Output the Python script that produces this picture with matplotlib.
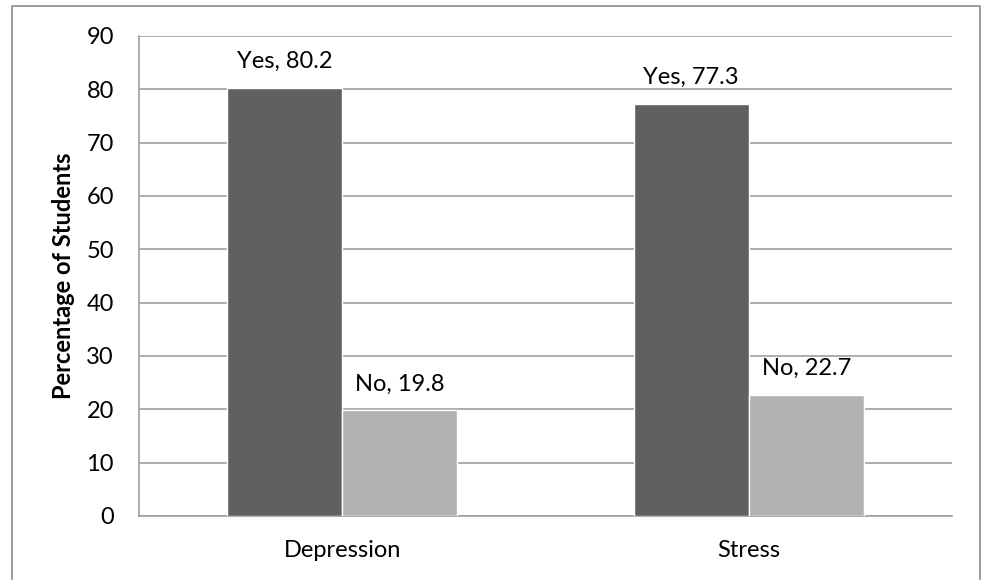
import numpy as np
import matplotlib.pyplot as plt
from matplotlib.patches import Rectangle

plt.rcParams['font.family'] = ['Lato', 'DejaVu Sans']

categories = ['Depression', 'Stress']
yes_values = [80.2, 77.3]
no_values = [19.8, 22.7]
yes_labels = ['Yes, 80.2', 'Yes, 77.3']
no_labels = ['No, 19.8', 'No, 22.7']

fig = plt.figure(figsize=(9.82, 5.8), dpi=100)
ax = fig.add_axes([139 / 982, 1 - 516 / 580, (952 - 139) / 982, (516 - 36) / 580])

# thin frame round the whole chart
fig.patches.append(Rectangle((12 / 982, -0.01), (980 - 12) / 982, 1 - 6 / 580 + 0.01,
                             transform=fig.transFigure, fill=False,
                             edgecolor='#8c8c8c', linewidth=1.2))

x = np.arange(len(categories))
w = 0.283
yes_bars = ax.bar(x - w / 2, yes_values, w, color='#606060', edgecolor='white', linewidth=1, zorder=3)
no_bars = ax.bar(x + w / 2, no_values, w, color='#b2b2b2', edgecolor='white', linewidth=1, zorder=3)

for bar, lab in zip(yes_bars, yes_labels):
    ax.text(bar.get_x() + bar.get_width() / 2, bar.get_height() + 3.0, lab,
            ha='center', va='bottom', fontsize=17)
for bar, lab in zip(no_bars, no_labels):
    ax.text(bar.get_x() + bar.get_width() / 2, bar.get_height() + 3.0, lab,
            ha='center', va='bottom', fontsize=17)

ax.set_xlim(-0.5, 1.5)
ax.set_ylim(0, 90)
ax.set_yticks(np.arange(0, 91, 10))
ax.set_xticks(x)
ax.set_xticklabels(categories)
ax.tick_params(axis='both', length=0, labelsize=17)
ax.tick_params(axis='y', pad=18)
ax.tick_params(axis='x', pad=17)
ax.grid(axis='y', color='#a0a0a0', linewidth=1.2, zorder=0)
ax.set_axisbelow(True)
for side in ['top', 'right']:
    ax.spines[side].set_visible(False)
for side in ['left', 'bottom']:
    ax.spines[side].set_color('#a0a0a0')
    ax.spines[side].set_linewidth(1.2)

ax.set_ylabel('Percentage of Students', fontsize=17, fontweight='bold', labelpad=8)

fig.savefig('out.png', dpi=100)
